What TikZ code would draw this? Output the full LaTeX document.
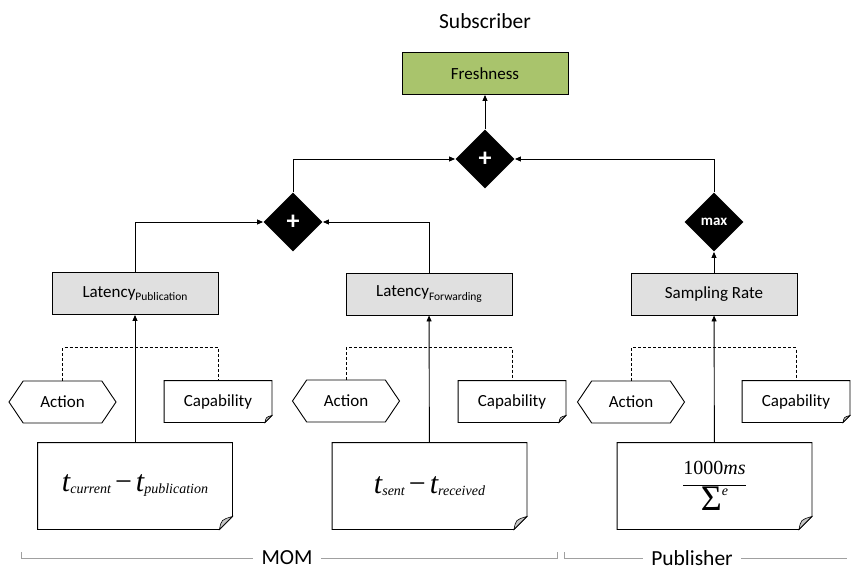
\documentclass[tikz,border=0pt]{standalone}
\usepackage[no-math]{fontspec}
\setmainfont{Carlito}
\newfontfamily\eqfont{Liberation Serif}
\usetikzlibrary{positioning,arrows.meta,shapes.geometric,shapes.symbols}

\definecolor{freshgreen}{RGB}{169,196,108}
\definecolor{metricgray}{RGB}{224,224,224}
\definecolor{bracketgray}{RGB}{160,160,160}

\newcommand\lowsub[1]{\raisebox{-0.4ex}{\fontsize{11.5}{12}\selectfont #1}}
\newcommand\tvar[1]{{\itshape t}\raisebox{-2pt}{\fontsize{14}{14}\selectfont\itshape #1}}
% note with a curled corner, drawn after the node
\newcommand\drawnote[2]{%
  \draw[line width=0.9pt] (#1.north west) -- (#1.north east) -- ([yshift=#2]#1.south east)
    -- ([xshift=-#2]#1.south east) -- (#1.south west) -- cycle;
  \draw[line width=0.6pt, fill=gray!45] ([yshift=#2]#1.south east)
    .. controls ([xshift=-0.85*#2, yshift=0.75*#2]#1.south east) .. ([xshift=-#2]#1.south east) -- cycle;}

\begin{document}
\begin{tikzpicture}[x=1pt, y=-1pt, line width=0.9pt, >={Triangle[length=6pt,width=5pt]},
  txt/.style={font=\fontsize{17}{20}\selectfont},
  box/.style={txt, draw, inner sep=0pt, minimum width=166pt, minimum height=42pt},
  goal/.style={box, fill=freshgreen},
  metric/.style={box, fill=metricgray},
  op/.style={diamond, fill=black, text=white, inner sep=0pt, minimum width=59pt, minimum height=59pt,
    font=\fontsize{26}{26}\selectfont\bfseries},
  action/.style={txt, signal, signal to=west and east, signal pointer angle=112, draw, inner sep=0pt,
    minimum width=107pt, minimum height=42pt},
  note/.style={inner sep=0pt, append after command={\pgfextra{\drawnote{\tikzlastnode}{#1}}}},
  capnote/.style={txt, note=7pt, minimum width=107pt, minimum height=41pt},
  formula/.style={note=13pt, minimum width=194pt, minimum height=86pt, font=\eqfont\fontsize{30}{32}\selectfont},
  side/.style={font=\fontsize{21.5}{24}\selectfont, inner xsep=8pt, inner ysep=1pt},
  bracket/.style={draw=bracketgray, line width=0.8pt},
  link/.style={dashed, dash pattern=on 3pt off 2pt, line width=0.8pt}]
\useasboundingbox (0,0) rectangle (851,570);

\node[side] (sub) at (485,21) {Subscriber};
\node[goal] (fresh) at (485,73.5) {Freshness};
\node[op] (sum) at (485,159) {+};
\node[op] (sumMom) at (293,222) {+};
\node[op, font=\fontsize{15}{15}\selectfont\bfseries] (max) at (714,222) {max};

\node[metric] (latPub) at (135,293.5) {Latency\lowsub{Publication}};
\node[metric] (latFwd) at (429,294) {Latency\lowsub{Forwarding}};
\node[metric] (rate) at (714,294) {Sampling Rate};

\node[action] (actPub) at (62.5,402) {Action};
\node[capnote] (capPub) at (218,401.5) {Capability};
\node[action] (actFwd) at (346,401) {Action};
\node[capnote] (capFwd) at (512,401.5) {Capability};
\node[action] (actRate) at (631,402) {Action};
\node[capnote] (capRate) at (796,401.5) {Capability};

\node[formula] (calcPub) at (135,486) {\tvar{current}\hspace{4pt}−\hspace{4pt}\tvar{publication}};
\node[formula] (calcFwd) at (429.5,486) {\tvar{sent}\hspace{4pt}−\hspace{4pt}\tvar{received}};
\node[formula] (calcRate) at (714.5,486)
  {$\displaystyle\frac{\mbox{\fontsize{20}{20}\selectfont 1000\itshape ms}}{\mbox{\fontsize{36}{36}\selectfont Σ\raisebox{0.42em}{\fontsize{14}{14}\selectfont\itshape e}}}$};

\node[side] (mom) at (287,558) {MOM};
\node[side] (pub) at (692,558) {Publisher};
\coordinate (momL) at (21,552);
\coordinate (momR) at (557,552);
\coordinate (pubL) at (564,552);
\coordinate (pubR) at (847,558);

% aggregation
\draw[->] (sum) -- (fresh);
\draw[->] (sumMom.north) |- (sum.west);
\draw[->] (max.north) |- (sum.east);
\draw[->] (latPub.north) |- (sumMom.west);
\draw[->] (latFwd.north) |- (sumMom.east);
\draw[->] (rate) -- (max);

% metrics
\draw[->] (calcPub) -- (latPub);
\draw[->] (calcFwd) -- (latFwd);
\draw[->] (calcRate) -- (rate);
\draw[link] (actPub.north) -- ++(0,-33) -| (capPub.north);
\draw[link] (actFwd.north) -- ++(0,-32) -| (capFwd.north);
\draw[link] (actRate.north) -- ++(0,-33) -| (capRate.north);

% sides
\draw[bracket] (momL) |- (mom.west);
\draw[bracket] (mom.east) -| (momR);
\draw[bracket] (pubL) |- (pub.west);
\draw[bracket] (pub.east) -- (pubR);
\end{tikzpicture}
\end{document}
